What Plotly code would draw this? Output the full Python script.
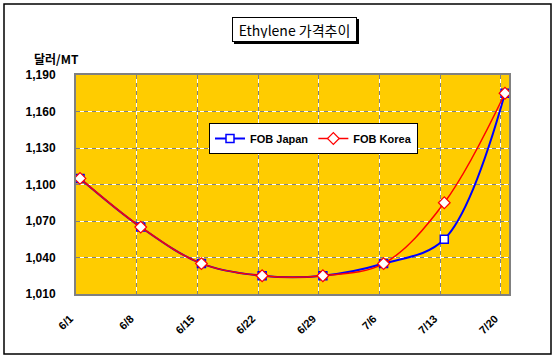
import plotly.graph_objects as go

dates = ["6/1", "6/8", "6/15", "6/22", "6/29", "7/6", "7/13", "7/20"]
fob_japan = [1105, 1065, 1035, 1025, 1025, 1035, 1055, 1175]
fob_korea = [1105, 1065, 1035, 1025, 1025, 1035, 1085, 1175]
y_ticks = [1010, 1040, 1070, 1100, 1130, 1160, 1190]
y_tick_text = [f"{v:,}" for v in y_ticks]

W, H = 556, 360
L, R, T, B = 76, 47, 75, 66
pw, ph = W - L - R, H - T - B


def px_x(p):
    return (p - L) / pw


def px_y(p):
    return 1 - (p - T) / ph


xpos = list(range(len(dates)))
pad = 0.066
xr = [-pad, len(dates) - 1 + pad]
grid_x = [i - pad for i in range(1, len(dates))]

fig = go.Figure()
# helper subplots for two-tone grid lines
fig.add_trace(go.Scatter(x=[], y=[], xaxis="x2", yaxis="y", showlegend=False, hoverinfo="skip"))
fig.add_trace(go.Scatter(x=[], y=[], xaxis="x3", yaxis="y2", showlegend=False, hoverinfo="skip"))

fig.add_trace(go.Scatter(
    x=xpos, y=fob_japan, name="FOB Japan", mode="lines+markers",
    line=dict(color="#0000FF", width=2, shape="spline", smoothing=1.0),
    marker=dict(symbol="square", size=8, color="white", line=dict(color="#0000FF", width=1.5)),
))
fig.add_trace(go.Scatter(
    x=xpos, y=fob_korea, name="FOB Korea", mode="lines+markers",
    line=dict(color="#FF0000", width=1.5, shape="spline", smoothing=1.0),
    marker=dict(symbol="diamond", size=9, color="white", line=dict(color="#FF0000", width=1.2)),
))

tickfont = dict(family="Arial, Liberation Sans", size=12, color="black", weight="bold")

fig.update_layout(
    width=W, height=H,
    margin=dict(l=L, r=R, t=T, b=B, pad=0),
    paper_bgcolor="white",
    plot_bgcolor="#FFCC00",
    font=dict(family="Arial, Liberation Sans", color="black"),
    xaxis=dict(
        range=xr, tickvals=xpos, ticktext=dates, tickangle=-45,
        showgrid=False, zeroline=False,
        ticks="outside", ticklen=12, tickcolor="rgba(0,0,0,0)",
        ticklabelshift=-10,
        tickfont=dict(family="Arial, Liberation Sans", size=11, color="black", weight="bold"),
        showline=True, linecolor="#808080", linewidth=2, mirror=True,
    ),
    xaxis2=dict(
        range=xr, overlaying="x", tickvals=grid_x, showticklabels=False,
        showgrid=True, gridcolor="white", gridwidth=1, zeroline=False,
    ),
    xaxis3=dict(
        range=xr, overlaying="x", tickvals=grid_x, showticklabels=False,
        showgrid=True, gridcolor="#808080", gridwidth=1, griddash="4px,4px", zeroline=False,
    ),
    yaxis=dict(
        range=[1010, 1190], tickvals=y_ticks, ticktext=y_tick_text,
        showgrid=True, gridcolor="white", gridwidth=1, zeroline=False,
        ticks="outside", ticklen=16, tickcolor="rgba(0,0,0,0)",
        tickfont=tickfont,
        showline=True, linecolor="#808080", linewidth=2, mirror=True,
    ),
    yaxis2=dict(
        range=[1010, 1190], overlaying="y", tickvals=y_ticks, showticklabels=False,
        showgrid=True, gridcolor="#808080", gridwidth=1, griddash="4px,4px", zeroline=False,
    ),
    legend=dict(
        orientation="h", x=px_x(209), y=px_y(123),
        xanchor="left", yanchor="top",
        bgcolor="white", bordercolor="black", borderwidth=1,
        font=dict(family="Arial, Liberation Sans", size=11, color="black", weight="bold"),
        itemwidth=30, tracegroupgap=0,
    ),
    showlegend=True,
)

# title box shadow
fig.add_shape(
    type="rect", xref="paper", yref="paper",
    x0=px_x(234), x1=px_x(359), y0=px_y(44), y1=px_y(19),
    line=dict(color="black", width=0), fillcolor="black", layer="above",
)
fig.add_annotation(
    x=px_x(294.5), y=px_y(29.5), xref="paper", yref="paper", text="Ethylene 가격추이",
    xanchor="center", yanchor="middle", width=117, height=17,
    showarrow=False, font=dict(family="Noto Sans CJK KR", size=14, color="black"),
    bgcolor="white", bordercolor="black", borderwidth=1, borderpad=3,
)
fig.add_annotation(
    x=px_x(56), y=px_y(58), xref="paper", yref="paper",
    xanchor="center", yanchor="middle",
    text="<b>달러/MT</b>", showarrow=False,
    font=dict(family="Noto Sans CJK KR", size=12, color="black"),
)

# outer frame
fig.add_shape(
    type="rect", xref="paper", yref="paper",
    x0=px_x(4), x1=px_x(551), y0=px_y(354), y1=px_y(4),
    line=dict(color="black", width=1.5), fillcolor="rgba(0,0,0,0)", layer="below",
)

fig.write_html("out.html")
